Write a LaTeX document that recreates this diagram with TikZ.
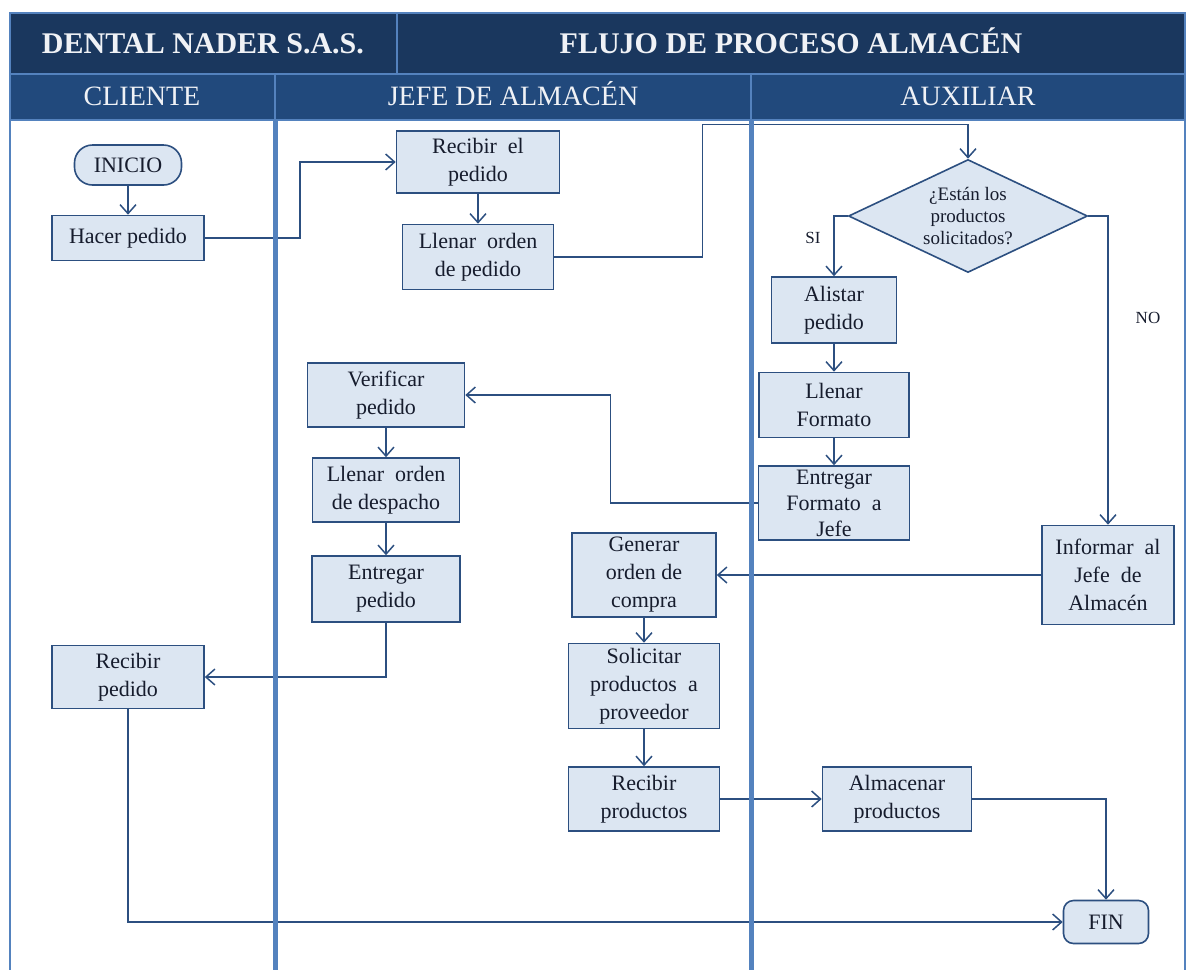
\documentclass[tikz,border=0pt]{standalone}
\usepackage{fontspec}
\setmainfont{Liberation Serif}
\usetikzlibrary{shapes.geometric, arrows.meta, positioning}

\definecolor{titlebg}{RGB}{26,55,94}
\definecolor{headbg}{RGB}{33,73,124}
\definecolor{lanecol}{RGB}{84,130,190}
\definecolor{boxfill}{RGB}{220,230,242}
\definecolor{boxline}{RGB}{44,79,128}
\definecolor{boxtext}{RGB}{22,28,45}
\definecolor{headtext}{RGB}{240,242,246}

\tikzstyle{process} = [rectangle, draw=boxline, fill=boxfill, line width=1.6pt, text=boxtext, align=center, inner sep=2pt, font=\fontsize{22}{28}\selectfont]
\tikzstyle{startstop} = [process, rounded corners=18pt]
\tikzstyle{decision} = [diamond, aspect=2.1, draw=boxline, fill=boxfill, line width=1.6pt, text=boxtext, align=center, inner sep=0pt, font=\fontsize{19}{22}\selectfont]
\tikzstyle{arrow} = [line width=1.5pt, draw=boxline, ->, >={Straight Barb[length=9pt,width=16pt]}]
\tikzstyle{branch} = [text=boxtext, font=\fontsize{17}{20}\selectfont]
\tikzstyle{titlecell} = [text=headtext, text height=21pt, text depth=0pt, font=\fontsize{30}{34}\selectfont\bfseries]
\tikzstyle{lanehead} = [text=headtext, text height=19pt, text depth=0pt, font=\fontsize{28}{32}\selectfont]
\tikzstyle{cellframe} = [draw=lanecol, line width=2.5pt]

\begin{document}
\begin{tikzpicture}[x=1pt, y=-1pt, node distance=95pt]
\useasboundingbox (0,0) rectangle (1186,970);

% Title and lanes header
\filldraw [cellframe, fill=titlebg] (10,13) rectangle (397,74);
\filldraw [cellframe, fill=titlebg] (397,13) rectangle (1185,74);
\filldraw [cellframe, fill=headbg] (10,74) rectangle (275,120);
\filldraw [cellframe, fill=headbg] (275,74) rectangle (751,120);
\filldraw [cellframe, fill=headbg] (751,74) rectangle (1185,120);
\node (empresa) [titlecell] at (203,43) {DENTAL NADER S.A.S.};
\node (titulo) [titlecell] at (791,43) {FLUJO DE PROCESO ALMACÉN};
\node (cliente) [lanehead] at (142,96) {CLIENTE};
\node (jefe) [lanehead] at (513,96) {JEFE DE ALMACÉN};
\node (auxiliar) [lanehead] at (968,96) {AUXILIAR};

% Nodes - cliente
\node (inicio) [startstop, minimum width=107pt, minimum height=40pt] at (128,165) {INICIO};
\node (hacer) [process, minimum width=152pt, minimum height=45pt, node distance=73pt, below of=inicio] {Hacer pedido};
\node (recibirpedido) [process, minimum width=152pt, minimum height=63pt] at (128,677) {Recibir\\pedido};

% Nodes - jefe de almacen
\node (recibir) [process, minimum width=163pt, minimum height=62pt] at (478,162) {Recibir\ \ el\\pedido};
\node (orden) [process, minimum width=151pt, minimum height=65pt, below of=recibir] {Llenar\ \ orden\\de pedido};
\node (verificar) [process, minimum width=157pt, minimum height=64pt] at (386,395) {Verificar\\pedido};
\node (despacho) [process, minimum width=147pt, minimum height=64pt, below of=verificar] {Llenar\ \ orden\\de despacho};
\node (entregar) [process, minimum width=148pt, minimum height=66pt, node distance=99pt, below of=despacho] {Entregar\\pedido};
\node (generar) [process, minimum width=144pt, minimum height=84pt] at (644,575) {Generar\\orden de\\compra};
\node (solicitar) [process, minimum width=151pt, minimum height=85pt, node distance=111pt, below of=generar] {Solicitar\\productos\ \ a\\proveedor};
\node (recibirprod) [process, minimum width=151pt, minimum height=64pt, node distance=113pt, below of=solicitar] {Recibir\\productos};

% Nodes - auxiliar
\node (decision) [decision, minimum width=239pt, minimum height=113pt] at (968,216) {¿Están los\\productos\\solicitados?};
\node (alistar) [process, minimum width=125pt, minimum height=66pt] at (834,310) {Alistar\\pedido};
\node (formato) [process, minimum width=150pt, minimum height=65pt, below of=alistar] {Llenar\\Formato};
\node (entregaformato) [process, minimum width=151pt, minimum height=74pt, font=\fontsize{22}{26}\selectfont, inner ysep=0pt, node distance=98pt, below of=formato] {Entregar\\Formato\ \ a\\Jefe};
\node (informar) [process, minimum width=132pt, minimum height=99pt] at (1108,575) {Informar\ \ al\\Jefe\ \ de\\Almacén};
\node (almacenar) [process, minimum width=149pt, minimum height=64pt] at (897,799) {Almacenar\\productos};
\node (fin) [startstop, rounded corners=10pt, minimum width=85pt, minimum height=43pt] at (1106,922) {FIN};
\node (si) [branch] at (813,238) {SI};
\node (no) [branch] at (1148,318) {NO};

% Arrows
\draw [arrow] (inicio) -- (hacer);
\draw [arrow] (hacer.east) -- ++(95,0) |- (recibir.west);
\draw [arrow] (recibir) -- (orden);
\draw [arrow] (orden.east) -- ++(148,0) |- ([yshift=34pt]decision.north) -- (decision.north);
\draw [arrow] (decision.west) -| (alistar.north);
\draw [arrow] (decision.east) -| (informar.north);
\draw [arrow] (alistar) -- (formato);
\draw [arrow] (formato) -- (entregaformato);
\draw [arrow] (entregaformato.west) -- ++(-147,0) |- (verificar.east);
\draw [arrow] (verificar) -- (despacho);
\draw [arrow] (despacho) -- (entregar);
\draw [arrow] (entregar.south) |- (recibirpedido.east);
\draw [arrow] (informar.west) -- (generar.east);
\draw [arrow] (generar) -- (solicitar);
\draw [arrow] (solicitar) -- (recibirprod);
\draw [arrow] (recibirprod) -- (almacenar);
\draw [arrow] (almacenar.east) -| (fin.north);
\draw [arrow] (recibirpedido.south) |- (fin.west);

% Lane lines
\draw [lanecol, line width=2.5pt] (10,120) -- (10,970);
\draw [lanecol, line width=5pt] (275,120) -- (275,970);
\draw [lanecol, line width=5pt] (751,120) -- (751,970);
\draw [lanecol, line width=2pt] (1185,120) -- (1185,970);

\end{tikzpicture}
\end{document}
